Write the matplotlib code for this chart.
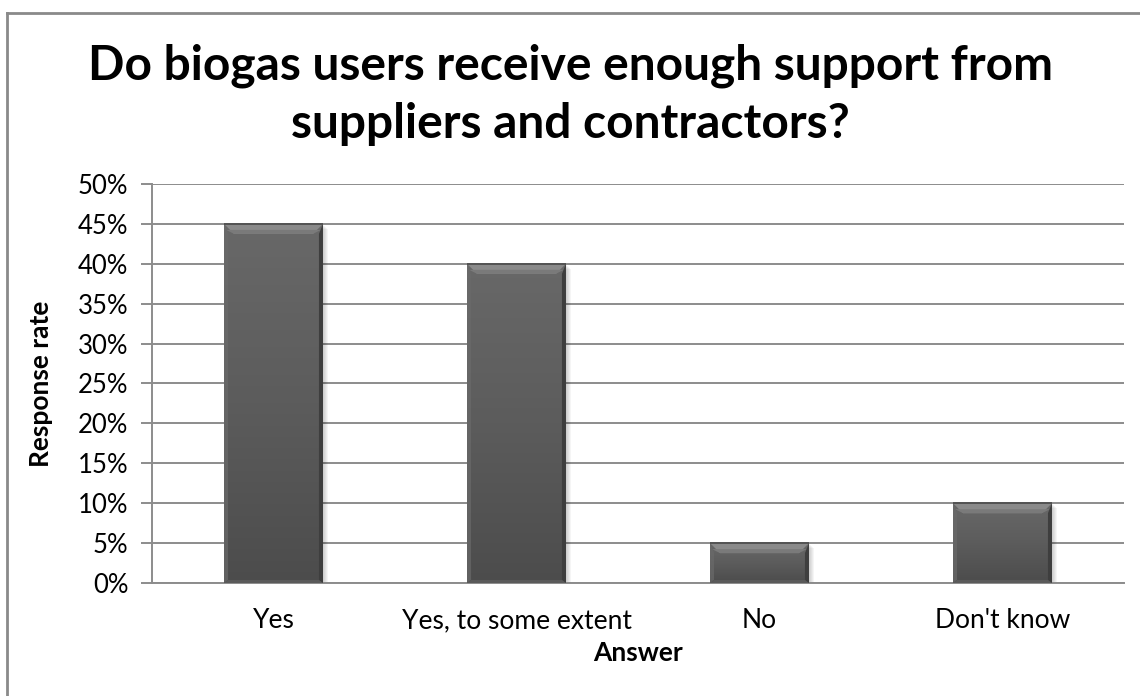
import numpy as np
import matplotlib
matplotlib.use("Agg")
import matplotlib.pyplot as plt
from matplotlib.patches import Polygon, Rectangle
from matplotlib.lines import Line2D
from matplotlib.ticker import PercentFormatter, MultipleLocator

answers = ["Yes", "Yes, to some extent", "No", "Don't know"]
response_rate = [0.45, 0.40, 0.05, 0.10]

plt.rcParams['font.family'] = ['Lato', 'DejaVu Sans']

W, H = 1140, 696
fig = plt.figure(figsize=(W / 100, H / 100), dpi=100)
ax = fig.add_axes([152 / W, 1 - 583 / H, (1124 - 152) / W, (583 - 184) / H])

# chart frame: only top and left edges show
fig.lines.append(Line2D([7 / W, 1], [1 - 13 / H, 1 - 13 / H], transform=fig.transFigure,
                        color="#8a8a8a", linewidth=2))
fig.lines.append(Line2D([7 / W, 7 / W], [0, 1 - 13 / H], transform=fig.transFigure,
                        color="#8a8a8a", linewidth=2))

x = np.arange(len(answers))
width = 0.407
bars = ax.bar(x, response_rate, width=width, color="#5e5e5e", zorder=3)

grad = np.linspace(0, 1, 64).reshape(-1, 1)
cmap = matplotlib.colors.LinearSegmentedColormap.from_list("body", ["#4c4c4c", "#5c5c5c", "#686868"])

# pixel sizes in data units
px = 1 / 243
py = 0.5 / 399
for xi, v, bar in zip(x, response_rate, bars):
    x0, x1 = xi - width / 2, xi + width / 2
    # soft shadow
    for k in range(5):
        ax.add_patch(Rectangle((x0 + (1 + k) * px, -(1 + k) * py), width, v,
                               facecolor="#000000", alpha=0.04, edgecolor="none", zorder=2))
    im = ax.imshow(grad, extent=(x0, x1, 0, v), origin="lower", cmap=cmap,
                   aspect="auto", zorder=3.5)
    im.set_clip_path(bar)
    # top bevel
    bx, by = 10 * px, 10 * py
    ax.add_patch(Polygon([(x0, v), (x1, v), (x1 - bx, v - by), (x0 + bx, v - by)],
                         closed=True, facecolor="#8a8a8a", edgecolor="none", zorder=4))
    ax.add_patch(Polygon([(x0 + 2 * px, v - 6 * py), (x1 - 2 * px, v - 6 * py),
                          (x1 - bx, v - by), (x0 + bx, v - by)],
                         closed=True, facecolor="#7a7a7a", edgecolor="none", zorder=4))
    # right and left edges
    sx = 4 * px
    ax.add_patch(Polygon([(x1, v), (x1, 0), (x1 - sx, 3 * py), (x1 - sx, v - by)],
                         closed=True, facecolor="#3e3e3e", edgecolor="none", zorder=4))
    ax.add_patch(Polygon([(x0, v), (x0, 0), (x0 + sx, 3 * py), (x0 + sx, v - by)],
                         closed=True, facecolor="#6a6a6a", edgecolor="none", alpha=0.7, zorder=4))
    # bottom edge
    ax.add_patch(Polygon([(x0, 0), (x1, 0), (x1 - sx, 3 * py), (x0 + sx, 3 * py)],
                         closed=True, facecolor="#5a5a5a", edgecolor="none", zorder=4))
    ax.plot([x0, x1], [v, v], color="#4a4a4a", linewidth=1.2, zorder=5, solid_capstyle="butt")

ax.set_xlim(-0.5, len(answers) - 0.5)
ax.set_ylim(0, 0.5)
ax.yaxis.set_major_locator(MultipleLocator(0.05))
ax.yaxis.set_major_formatter(PercentFormatter(1.0, decimals=0))
ax.grid(axis="y", color="#8c8c8c", linewidth=1.4, zorder=0)
ax.set_axisbelow(True)

for side in ["top", "right"]:
    ax.spines[side].set_visible(False)
for side in ["left", "bottom"]:
    ax.spines[side].set_color("#8c8c8c")
    ax.spines[side].set_linewidth(1.4)

ax.set_xticks(x)
ax.set_xticklabels(answers, fontsize=19)
ax.tick_params(axis="x", length=0, pad=18)
ax.tick_params(axis="y", direction="out", length=8, width=1.4, color="#8c8c8c",
               labelsize=18.5, pad=9)

ax.set_xlabel("Answer", fontsize=19, fontweight="bold", labelpad=6)
ax.set_ylabel("Response rate", fontsize=19, fontweight="bold", labelpad=18)

fig.text(0.5, 1 - 80 / H, "Do biogas users receive enough support from", ha="center", va="baseline",
         fontsize=34.5, fontweight="bold")
fig.text(0.5, 1 - 138 / H, "suppliers and contractors?", ha="center", va="baseline",
         fontsize=34.5, fontweight="bold")

fig.savefig("out.png", dpi=100)
